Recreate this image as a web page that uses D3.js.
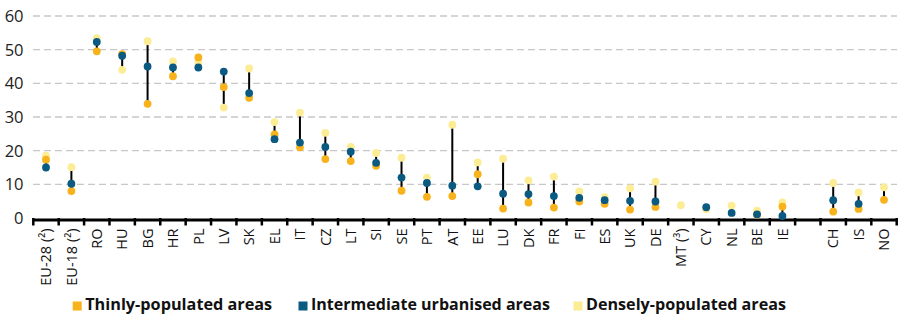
<!DOCTYPE html>
<html><head><meta charset="utf-8">
<script src="https://cdn.jsdelivr.net/npm/d3@7"></script>
<style>body{margin:0;background:#fff}svg{display:block}</style>
</head><body>
<script>
const categories = ["EU-28 (²)","EU-18 (²)","RO","HU","BG","HR","PL","LV","SK","EL","IT","CZ","LT","SI","SE","PT","AT","EE","LU","DK","FR","FI","ES","UK","DE","MT (³)","CY","NL","BE","IE","","CH","IS","NO"];
const thinly = [17.3,8.0,49.5,48.7,33.9,42.1,47.7,38.9,35.7,24.8,21.0,17.5,16.9,15.5,8.1,6.3,6.5,13.0,2.8,4.6,3.1,4.9,4.2,2.5,3.3,null,null,null,1.0,3.4,null,1.9,2.7,5.4];
const intermediate = [15.0,10.2,52.3,48.2,45.0,44.7,44.7,43.5,37.1,23.4,22.4,21.1,19.7,16.4,12.0,10.4,9.6,9.4,7.2,7.1,6.5,6.0,5.3,5.1,4.9,null,3.2,1.5,1.1,0.6,null,5.3,4.2,null];
const densely = [18.5,15.1,53.4,44.0,52.5,46.5,46.0,32.8,44.4,28.5,31.3,25.3,21.1,19.3,17.9,12.0,27.7,16.5,17.6,11.2,12.3,7.9,6.2,8.8,10.8,3.8,2.6,3.7,2.2,4.6,null,10.4,7.6,9.1];
const yTicks = [0,10,20,30,40,50,60];
const seriesNames = ["Thinly-populated areas","Intermediate urbanised areas","Densely-populated areas"];
const colors = ["#f8b21b","#0b5a82","#fcec93"];

const W=902,H=314;
const svg=d3.select("body").append("svg").attr("width",W).attr("height",H);
const font="'Open Sans', sans-serif";
const x=d3.scaleBand().domain(categories.map((c,i)=>i)).range([33.3,896.7]);
const y=d3.scaleLinear().domain([0,60]).range([218,16]);

// gridlines
svg.append("g").selectAll("line").data(yTicks.filter(t=>t>0)).join("line")
  .attr("x1",33).attr("x2",897).attr("y1",d=>y(d)).attr("y2",d=>y(d))
  .attr("stroke","#c8c8c8").attr("stroke-width",1.4).attr("stroke-dasharray","7,4");

// y labels
svg.append("g").selectAll("text").data(yTicks).join("text")
  .attr("x",23.5).attr("y",d=>y(d)).attr("dy","0.36em").attr("text-anchor","end")
  .attr("font-family",font).attr("font-size",16.5).attr("fill","#222").text(d=>d);

// axis
const xAxis=d3.axisBottom(x).tickSize(0).tickFormat(i=>categories[i]);
const gx=svg.append("g").attr("transform","translate(0,219.5)").call(xAxis);
gx.select(".domain").attr("stroke","#000").attr("stroke-width",3);
gx.selectAll(".tick text").attr("font-family",font).attr("font-size",14.5).attr("fill","#111")
  .attr("transform","rotate(-90)").attr("text-anchor","end").attr("x",-9).attr("y",0).attr("dy","0.36em");
// boundary ticks
const bounds=d3.range(categories.length+1).map(i=>x.range()[0]+i*x.step());
svg.append("g").selectAll("line").data(bounds).join("line")
  .attr("x1",d=>d).attr("x2",d=>d).attr("y1",218).attr("y2",225.5)
  .attr("stroke","#000").attr("stroke-width",2.5);

// ranges
const cx=i=>x(i)+x.bandwidth()/2;
const rows=categories.map((c,i)=>({i,vals:[thinly[i],intermediate[i],densely[i]].filter(v=>v!=null)})).filter(r=>r.vals.length>1);
svg.append("g").selectAll("line").data(rows).join("line")
  .attr("x1",d=>cx(d.i)).attr("x2",d=>cx(d.i))
  .attr("y1",d=>y(d3.min(d.vals))).attr("y2",d=>y(d3.max(d.vals)))
  .attr("stroke","#000").attr("stroke-width",2);

// dots
const order=[2,0,1];
const series=[thinly,intermediate,densely];
order.forEach(s=>{
  svg.append("g").selectAll("circle").data(series[s].map((v,i)=>({v,i})).filter(d=>d.v!=null)).join("circle")
    .attr("cx",d=>cx(d.i)).attr("cy",d=>y(d.v)).attr("r",3.9).attr("fill",colors[s]);
});

// legend
const legX=[72.7,298.5,573.5];
const legW=[187,239,200];
const lg=svg.append("g");
seriesNames.forEach((n,k)=>{
  lg.append("rect").attr("x",legX[k]).attr("y",301.5).attr("width",9).attr("height",9).attr("fill",colors[k]);
  lg.append("text").attr("x",legX[k]+12.5).attr("y",310).attr("font-family",font).attr("font-weight","bold")
    .attr("font-size",16.5).attr("fill","#111").attr("textLength",legW[k]).attr("lengthAdjust","spacingAndGlyphs").text(n);
});
</script>
</body></html>
